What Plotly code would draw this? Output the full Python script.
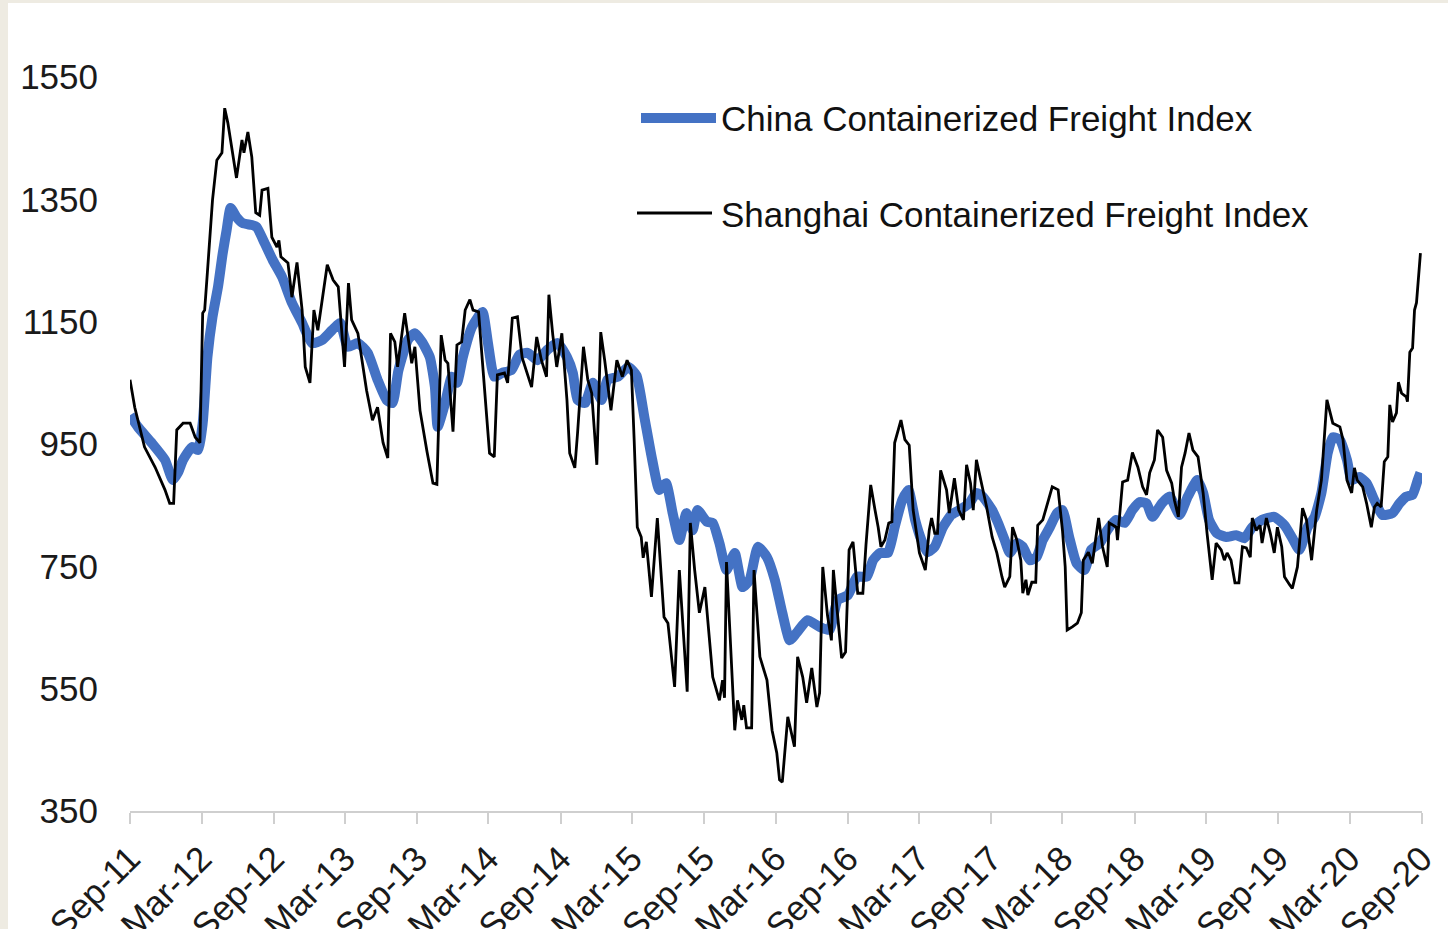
import plotly.graph_objects as go

# ---------------- data ----------------
scfi_dates = [
"2011-09-01","2011-09-13","2011-10-08","2011-11-04","2011-11-29","2011-12-11","2011-12-21","2011-12-29",
"2012-01-14","2012-02-01","2012-02-14","2012-02-26","2012-03-04","2012-03-09","2012-03-16","2012-03-29",
"2012-04-09","2012-04-22","2012-04-29","2012-05-07","2012-05-29","2012-06-12","2012-06-17","2012-06-27",
"2012-07-07","2012-07-17","2012-07-27","2012-08-02","2012-08-17","2012-08-27","2012-09-09","2012-09-14",
"2012-09-19","2012-10-07","2012-10-17","2012-10-30","2012-11-12","2012-11-20","2012-12-02","2012-12-12",
"2012-12-22","2013-01-15","2013-01-30","2013-02-12","2013-02-28","2013-03-10","2013-03-18","2013-04-03",
"2013-04-25","2013-05-10","2013-05-23","2013-06-06","2013-06-18","2013-06-25","2013-07-06","2013-07-13",
"2013-07-31","2013-08-18","2013-08-26","2013-09-08","2013-09-26","2013-10-11","2013-10-21","2013-11-01",
"2013-11-11","2013-11-18","2013-12-01","2013-12-11","2013-12-23","2014-01-01","2014-01-13","2014-01-21",
"2014-02-04","2014-02-21","2014-03-04","2014-03-16","2014-03-24","2014-04-11","2014-04-19","2014-05-01",
"2014-05-14","2014-05-26","2014-06-19","2014-07-02","2014-07-14","2014-07-27","2014-08-02","2014-08-12",
"2014-08-22","2014-09-04","2014-09-17","2014-09-24","2014-10-07","2014-10-14","2014-10-29","2014-11-09",
"2014-11-19","2014-12-02","2014-12-12","2014-12-22","2015-01-07","2015-01-22","2015-02-05","2015-02-17",
"2015-02-28","2015-03-07","2015-03-15","2015-03-25","2015-03-30","2015-04-07","2015-04-20","2015-05-05",
"2015-05-22","2015-06-01","2015-06-18","2015-06-30","2015-07-20","2015-07-28","2015-08-08","2015-08-20",
"2015-09-03","2015-09-23","2015-10-10","2015-10-18","2015-10-23","2015-10-28","2015-11-18","2015-11-25",
"2015-12-06","2015-12-11","2015-12-18","2015-12-31","2016-01-06","2016-01-21","2016-02-08","2016-02-21",
"2016-03-04","2016-03-11","2016-03-18","2016-04-01","2016-04-18","2016-04-26","2016-05-09","2016-05-19",
"2016-06-01","2016-06-14","2016-06-21","2016-06-29","2016-07-11","2016-07-21","2016-07-26","2016-08-16",
"2016-08-26","2016-09-04","2016-09-14","2016-09-26","2016-10-09","2016-10-17","2016-10-29","2016-11-09",
"2016-11-17","2016-11-24","2016-12-04","2016-12-14","2016-12-22","2016-12-29","2017-01-14","2017-01-24",
"2017-02-04","2017-02-14","2017-03-02","2017-03-17","2017-03-27","2017-04-02","2017-04-10","2017-04-17",
"2017-04-25","2017-05-10","2017-05-17","2017-05-30","2017-06-10","2017-06-22","2017-06-30","2017-07-10",
"2017-07-17","2017-07-25","2017-08-07","2017-08-20","2017-09-03","2017-09-15","2017-09-28","2017-10-05",
"2017-10-18","2017-10-25","2017-11-05","2017-11-15","2017-11-20","2017-11-28","2017-12-03","2017-12-13",
"2017-12-23","2017-12-28","2018-01-10","2018-01-20","2018-02-03","2018-02-18","2018-03-01","2018-03-08",
"2018-03-13","2018-03-26","2018-04-08","2018-04-18","2018-04-23","2018-05-06","2018-05-16","2018-06-01",
"2018-06-11","2018-06-23","2018-06-28","2018-07-16","2018-07-19","2018-08-01","2018-08-14","2018-08-26",
"2018-09-09","2018-09-21","2018-10-01","2018-10-09","2018-10-21","2018-10-29","2018-11-11","2018-11-21",
"2018-12-04","2018-12-11","2018-12-21","2018-12-29","2019-01-07","2019-01-17","2019-01-27","2019-02-09",
"2019-02-22","2019-03-04","2019-03-17","2019-03-27","2019-04-09","2019-04-17","2019-04-24","2019-05-04",
"2019-05-14","2019-05-24","2019-06-02","2019-06-12","2019-06-22","2019-06-27","2019-07-07","2019-07-17",
"2019-07-22","2019-08-02","2019-08-12","2019-08-22","2019-08-30","2019-09-10","2019-09-17","2019-09-30",
"2019-10-07","2019-10-20","2019-11-02","2019-11-12","2019-11-25","2019-12-08","2019-12-20","2020-01-03",
"2020-01-10","2020-01-18","2020-02-05","2020-02-13","2020-02-23","2020-03-06","2020-03-13","2020-03-20",
"2020-04-03","2020-04-13","2020-04-25","2020-05-03","2020-05-10","2020-05-20","2020-05-28","2020-06-06",
"2020-06-11","2020-06-18","2020-06-28","2020-07-03","2020-07-11","2020-07-23","2020-07-26","2020-08-01",
"2020-08-08","2020-08-13","2020-08-18","2020-08-28",
]
scfi_values = [
1055,1010,945,912,875,853,853,973,
984,984,961,952,1164,1169,1231,1349,
1414,1426,1499,1475,1385,1447,1426,1460,
1419,1328,1324,1365,1368,1288,1272,1283,
1256,1246,1190,1247,1169,1076,1050,1169,
1136,1243,1218,1207,1076,1213,1153,1131,
1038,989,1010,952,927,1131,1117,1076,
1164,1082,1109,1005,937,886,884,1128,
1087,1082,970,1112,1117,1169,1186,1169,
1166,1027,935,929,1063,1066,1050,1156,
1158,1091,1043,1125,1087,1060,1194,1128,
1076,1131,1022,935,911,968,1109,1055,
1033,916,1133,1087,1005,1087,1060,1087,
1071,957,814,798,764,790,700,829,
667,657,553,744,545,821,744,674,
716,569,531,564,535,757,482,531,
499,523,486,486,744,602,564,482,
445,401,397,504,455,602,569,527,
584,520,543,749,670,629,744,600,
610,777,790,706,706,785,883,842,
814,782,793,821,823,952,989,957,
948,842,772,744,809,829,804,804,
907,875,837,894,842,826,916,886,
842,924,886,847,798,772,733,716,
733,814,793,760,706,728,703,724,
724,817,826,847,880,875,809,749,
646,651,657,674,760,773,755,829,
782,749,821,814,793,888,891,936,
912,880,867,903,924,973,961,907,
886,858,831,912,935,968,940,929,
870,804,728,788,777,760,772,760,
723,723,782,780,765,829,809,817,
788,829,804,772,814,782,733,720,
714,749,845,826,760,842,891,1022,
1005,984,978,957,891,870,911,891,
880,853,814,847,853,847,921,929,
1014,986,1001,1051,1033,1027,1019,1100,
1107,1169,1181,1262,
]

ccfi_dates = [
"2011-09-01","2011-09-21","2011-10-26","2011-11-29","2011-12-19","2012-01-01","2012-01-14","2012-02-06",
"2012-02-21","2012-03-04","2012-03-16","2012-03-29","2012-04-12","2012-04-24","2012-05-04","2012-05-14",
"2012-05-29","2012-06-14","2012-07-07","2012-07-19","2012-08-09","2012-08-29","2012-09-22","2012-10-17",
"2012-11-12","2012-12-07","2013-01-02","2013-01-27","2013-02-17","2013-03-08","2013-04-03","2013-04-28",
"2013-05-23","2013-06-15","2013-06-30","2013-07-15","2013-08-08","2013-08-26","2013-09-13","2013-10-03",
"2013-10-16","2013-10-23","2013-11-11","2013-11-28","2013-12-11","2013-12-26","2014-01-18","2014-02-14",
"2014-02-28","2014-03-16","2014-04-04","2014-04-29","2014-05-19","2014-06-09","2014-07-04","2014-07-29",
"2014-08-24","2014-09-17","2014-10-02","2014-10-14","2014-11-02","2014-11-22","2014-12-14","2014-12-29",
"2015-01-25","2015-02-20","2015-03-13","2015-04-02","2015-04-22","2015-05-10","2015-05-27","2015-06-13",
"2015-06-30","2015-07-18","2015-08-03","2015-08-15","2015-09-08","2015-09-23","2015-10-10","2015-10-28",
"2015-11-18","2015-12-08","2015-12-26","2016-01-16","2016-02-08","2016-02-28","2016-03-18","2016-04-06",
"2016-04-23","2016-05-21","2016-06-21","2016-07-16","2016-08-06","2016-09-01","2016-09-24","2016-10-19",
"2016-11-04","2016-11-22","2016-12-12","2016-12-29","2017-01-17","2017-02-02","2017-02-19","2017-03-07",
"2017-03-22","2017-04-10","2017-04-30","2017-05-22","2017-06-12","2017-07-07","2017-07-25","2017-08-10",
"2017-09-03","2017-09-18","2017-10-05","2017-10-18","2017-11-05","2017-11-20","2017-12-08","2017-12-25",
"2018-01-10","2018-01-28","2018-02-15","2018-03-01","2018-03-18","2018-04-06","2018-04-26","2018-05-13",
"2018-06-04","2018-06-23","2018-07-16","2018-08-06","2018-08-26","2018-09-14","2018-10-01","2018-10-16",
"2018-11-09","2018-11-29","2018-12-24","2019-01-14","2019-02-07","2019-02-22","2019-03-09","2019-03-29",
"2019-04-22","2019-05-17","2019-06-07","2019-06-27","2019-07-22","2019-08-22","2019-09-17","2019-10-07",
"2019-10-25","2019-11-15","2019-12-03","2019-12-20","2020-01-05","2020-01-18","2020-02-05","2020-02-23",
"2020-03-06","2020-03-25","2020-04-13","2020-05-03","2020-05-23","2020-06-18","2020-07-06","2020-07-23",
"2020-08-08","2020-08-21","2020-08-28",
]
ccfi_values = [
997,978,952,924,891,903,924,945,
940,984,1092,1158,1207,1262,1300,1336,
1321,1311,1308,1305,1278,1251,1223,1181,
1148,1115,1120,1136,1148,1109,1115,1099,
1055,1022,1017,1070,1120,1131,1117,1092,
1043,978,1017,1060,1050,1092,1141,1166,
1115,1060,1066,1071,1096,1099,1087,1104,
1115,1092,1066,1022,1017,1050,1022,1055,
1060,1076,1062,994,924,875,886,837,
793,837,809,842,823,821,788,744,
772,716,728,782,765,728,674,629,
641,662,651,646,695,703,733,733,
760,772,772,814,858,875,826,793,
773,782,813,834,842,853,870,864,
842,821,793,772,788,782,760,765,
793,814,837,842,798,755,744,777,
788,809,826,821,842,855,853,831,
853,864,834,864,891,870,826,804,
798,801,796,814,826,831,817,796,
777,814,831,870,935,961,957,924,
891,896,886,858,834,837,853,864,
867,891,903,
]

tick_dates = ["2011-09-01","2012-03-01","2012-09-01","2013-03-01","2013-09-01","2014-03-01",
              "2014-09-01","2015-03-01","2015-09-01","2016-03-01","2016-09-01","2017-03-01",
              "2017-09-01","2018-03-01","2018-09-01","2019-03-01","2019-09-01","2020-03-01",
              "2020-09-01"]
tick_labels = ["Sep-11","Mar-12","Sep-12","Mar-13","Sep-13","Mar-14","Sep-14","Mar-15",
               "Sep-15","Mar-16","Sep-16","Mar-17","Sep-17","Mar-18","Sep-18","Mar-19",
               "Sep-19","Mar-20","Sep-20"]
y_ticks = [350, 550, 750, 950, 1150, 1350, 1550]

series_names = ["China Containerized Freight Index", "Shanghai Containerized Freight Index"]
BLUE = "#4472C4"
FONT = "Liberation Sans, Arial, sans-serif"

# ---------------- figure ----------------
fig = go.Figure()
fig.add_trace(go.Scatter(x=ccfi_dates, y=ccfi_values, mode="lines", name=series_names[0],
                         line=dict(color=BLUE, width=10, shape="spline", smoothing=0.5),
                         showlegend=False))
fig.add_trace(go.Scatter(x=scfi_dates, y=scfi_values, mode="lines", name=series_names[1],
                         line=dict(color="#000000", width=2.8), showlegend=False))

# plot area: x 130..1422 px, y 77..811 px
W, H = 1448, 929
L, R, T, B = 130, W - 1422, 77, H - 811
PW, PH = W - L - R, H - T - B

def px(x):
    return (x - L) / PW

def py(y):
    return (H - B - y) / PH

shapes = [
    # white canvas; beige page edge left/top
    dict(type="rect", xref="paper", yref="paper", x0=px(8), x1=px(1460), y0=py(940), y1=py(3),
         fillcolor="white", line=dict(width=0), layer="below"),
    # legend samples
    dict(type="line", xref="paper", yref="paper", x0=px(641), x1=px(716), y0=py(118), y1=py(118),
         line=dict(color=BLUE, width=10)),
    dict(type="line", xref="paper", yref="paper", x0=px(637), x1=px(712), y0=py(213), y1=py(213),
         line=dict(color="#000000", width=2.8)),
]
annotations = [
    dict(xref="paper", yref="paper", x=px(719), y=py(119), text=series_names[0], showarrow=False,
         xanchor="left", yanchor="middle", font=dict(family=FONT, size=35, color="#111111")),
    dict(xref="paper", yref="paper", x=px(719), y=py(214), text=series_names[1], showarrow=False,
         xanchor="left", yanchor="middle", font=dict(family=FONT, size=35, color="#111111")),
]

fig.update_layout(
    width=W, height=H,
    margin=dict(l=L, r=R, t=T, b=B, pad=0),
    paper_bgcolor="#EEEBE2",
    plot_bgcolor="rgba(0,0,0,0)",
    font=dict(family=FONT, color="#1a1a1a"),
    shapes=shapes,
    annotations=annotations,
    showlegend=False,
    xaxis=dict(
        type="date", range=["2011-09-01", "2020-09-01"],
        tickmode="array", tickvals=tick_dates, ticktext=tick_labels, tickangle=-45,
        tickfont=dict(family=FONT, size=35, color="#1a1a1a"),
        showgrid=False, zeroline=False,
        showline=True, linecolor="#CFCFCF", linewidth=2,
        ticks="outside", ticklen=11, tickcolor="#CFCFCF", tickwidth=2,
        automargin=False,
    ),
    yaxis=dict(
        range=[350, 1550], tickmode="array", tickvals=y_ticks,
        tickfont=dict(family=FONT, size=35, color="#1a1a1a"),
        showgrid=False, zeroline=False, showline=False,
        ticks="outside", ticklen=24, tickcolor="rgba(0,0,0,0)",
        automargin=False,
    ),
)

fig.write_html("out.html", config={"displayModeBar": False},
               post_script="document.body.style.margin='0px';")
